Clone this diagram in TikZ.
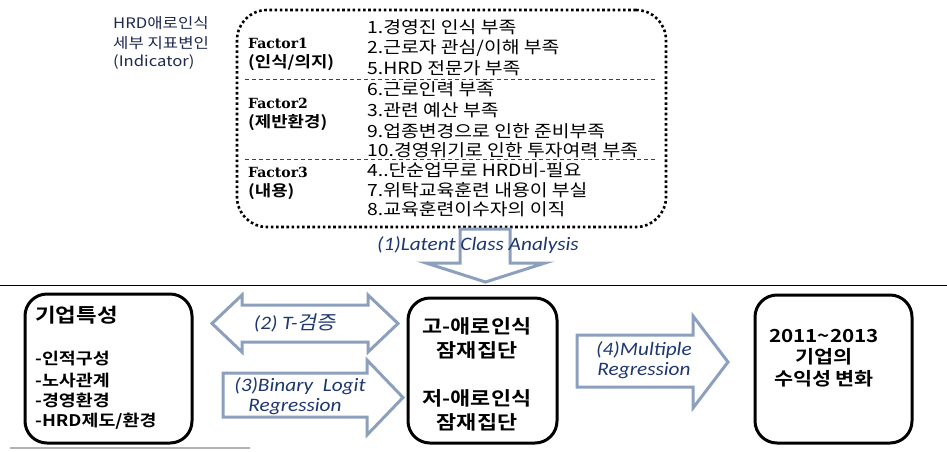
\documentclass[tikz,border=0pt]{standalone}
\usepackage{fontspec}
\setmainfont{Noto Sans CJK KR}[FakeStretch=1.15, BoldFont={Noto Sans CJK KR Bold}]
\newfontfamily\facfont{DejaVu Serif}[FakeStretch=1.0]
\newfontfamily\labfont{Carlito}[FakeStretch=1.12]
\newfontfamily\labkr{Noto Sans CJK KR}[FakeSlant=0.2, FakeStretch=1.1]
\definecolor{arrowc}{RGB}{140,160,190}
\definecolor{labc}{RGB}{30,55,112}
\definecolor{navy}{RGB}{30,40,80}
\begin{document}
\begin{tikzpicture}[x=1pt,y=-1pt,
  itm/.style={anchor=west, inner sep=0pt, font=\fontsize{16.8}{18}\selectfont},
  indlab/.style={anchor=west, inner sep=0pt, text=navy, font=\fontsize{14.5}{16}\selectfont},
  facen/.style={anchor=west, inner sep=0pt, font=\facfont\bfseries\fontsize{14}{16}\selectfont},
  fackr/.style={anchor=west, inner sep=0pt, font=\bfseries\fontsize{15.5}{17}\selectfont},
  indbox/.style={draw, line width=2.6pt, dash pattern=on 2.6pt off 2.6pt, rounded corners=30pt, inner sep=0pt},
  sepline/.style={draw=black!75, line width=0.9pt, dash pattern=on 4pt off 3pt},
  blk/.style={draw, line width=3pt, rounded corners=22pt, inner sep=0pt},
  barrow/.style={draw=arrowc, line width=3pt, fill=white, line join=miter},
  lab/.style={text=labc, inner sep=0pt, font=\labfont\itshape\fontsize{19}{21}\selectfont},
  btxt/.style={inner sep=0pt, font=\bfseries\fontsize{18}{20}\selectfont},
  ctxt/.style={inner sep=0pt, font=\bfseries\fontsize{19}{21}\selectfont},
  ltxt/.style={anchor=west, inner sep=0pt, font=\bfseries\fontsize{16}{18}\selectfont}
]
\useasboundingbox (0,0) rectangle (947,451);

% ---- indicator block ----
\node[indlab] (i1) at (113,23) {HRD애로인식};
\node[indlab] (i2) at (113,43) {세부 지표변인};
\node[indlab] (i3) at (113,62) {(Indicator)};

\node[indbox, minimum width=429pt, minimum height=217pt] (ind) at (451.5,118.5) {};
\coordinate (s1a) at (245,79);  \coordinate (s1b) at (655,79);
\coordinate (s2a) at (245,159); \coordinate (s2b) at (655,159);
\draw[sepline] (s1a) -- (s1b);
\draw[sepline] (s2a) -- (s2b);

\node[facen] (f1) at (248,43) {Factor1};
\node[fackr] (f1k) at (248,63) {(인식/의지)};
\node[facen] (f2) at (248,103) {Factor2};
\node[fackr] (f2k) at (248,123) {(제반환경)};
\node[facen] (f3) at (248,172) {Factor3};
\node[fackr] (f3k) at (248,192) {(내용)};

\node[itm] (t1) at (367,27) {1.경영진 인식 부족};
\node[itm] (t2) at (367,48) {2.근로자 관심/이해 부족};
\node[itm] (t5) at (367,68) {5.HRD 전문가 부족};
\node[itm] (t6) at (367,89) {6.근로인력 부족};
\node[itm] (t3) at (367,110) {3.관련 예산 부족};
\node[itm] (t9) at (367,131) {9.업종변경으로 인한 준비부족};
\node[itm] (t10) at (367,150) {10.경영위기로 인한 투자여력 부족};
\node[itm] (t4) at (367,170) {4..단순업무로 HRD비-필요};
\node[itm] (t7) at (367,190) {7.위탁교육훈련 내용이 부실};
\node[itm] (t8) at (367,209) {8.교육훈련이수자의 이직};

% ---- down arrow (1) ----
\draw[barrow] (460,229) -- (510,229) -- (510,263) -- (545,263) -- (485.5,282)
  -- (426,263) -- (460,263) -- cycle;
\node[lab] (l1) at (478,245) {(1)Latent Class Analysis};

% ---- separator ----
\coordinate (hl0) at (0,285); \coordinate (hl1) at (947,285);
\draw[line width=1pt] (hl0) -- (hl1);
\coordinate (gl0) at (10,448); \coordinate (gl1) at (250,448);
\draw[black!30, line width=1.2pt] (gl0) -- (gl1);

% ---- bottom boxes ----
\node[blk, minimum width=167pt, minimum height=149pt] (b1) at (108.5,368.5) {};
\node[anchor=west, inner sep=0pt, font=\bfseries\fontsize{19.5}{21}\selectfont] (b1t) at (35,315) {기업특성};
\node[ltxt] (b1a) at (35,359) {-인적구성};
\node[ltxt] (b1b) at (35,380) {-노사관계};
\node[ltxt] (b1c) at (35,400) {-경영환경};
\node[ltxt] (b1d) at (35,421) {-HRD제도/환경};

\node[blk, minimum width=149pt, minimum height=145pt] (b2) at (482.5,370.5) {};
\node[ctxt] (b2a) at (477,326) {고-애로인식};
\node[ctxt] (b2b) at (477,350) {잠재집단};
\node[ctxt] (b2c) at (477,398) {저-애로인식};
\node[ctxt] (b2d) at (477,422) {잠재집단};

\node[blk, minimum width=157pt, minimum height=148pt] (b3) at (833.5,369) {};
\node[btxt] (b3a) at (824,336) {2011\textasciitilde2013};
\node[btxt] (b3b) at (824,357) {기업의};
\node[btxt] (b3c) at (824,379) {수익성 변화};

% ---- block arrows ----
\draw[barrow] (212,323.5) -- (242,295) -- (242,305) -- (368,305) -- (368,295)
  -- (398,323.5) -- (368,352) -- (368,342) -- (242,342) -- (242,352) -- cycle;
\node[lab] (l2) at (295,323) {(2) T-{\labkr 검증}};

\draw[barrow] (223,373) -- (367,373) -- (367,360) -- (403,397.5) -- (367,435)
  -- (367,417) -- (223,417) -- cycle;
\node[lab] (l3a) at (300,386) {(3)Binary\ \ Logit};
\node[lab] (l3b) at (295,407) {Regression};

\draw[barrow] (577,335) -- (693,335) -- (693,316) -- (728,362) -- (693,408)
  -- (693,387) -- (577,387) -- cycle;
\node[lab] (l4a) at (644,350) {(4)Multiple};
\node[lab] (l4b) at (644,371) {Regression};
\end{tikzpicture}
\end{document}
